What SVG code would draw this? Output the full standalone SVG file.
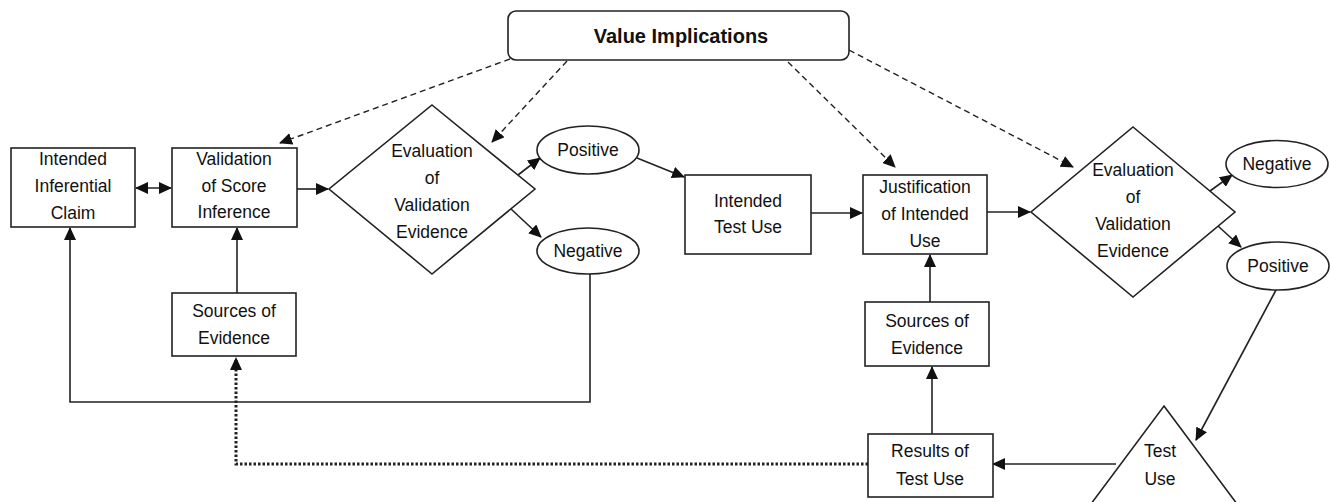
<svg xmlns="http://www.w3.org/2000/svg" width="1330" height="502" viewBox="0 0 1330 502">
<style>
.box{fill:#fff;stroke:#222;stroke-width:1.6}
.t{font-family:"Liberation Sans",Arial,sans-serif;font-size:17.5px;fill:#111;text-anchor:middle}
.b{font-weight:bold;font-size:20px}
.ln{fill:none;stroke:#222;stroke-width:1.6}
.da{fill:none;stroke:#222;stroke-width:1.4;stroke-dasharray:6 4}
.dot{fill:none;stroke:#222;stroke-width:3;stroke-dasharray:2.5 2}
</style>
<defs>
<marker id="ah" markerUnits="userSpaceOnUse" markerWidth="14" markerHeight="12" refX="12" refY="6" orient="auto-start-reverse" viewBox="0 0 14 12">
<path d="M0,0 L13,6 L0,12 z" fill="#111"/>
</marker>
</defs>
<rect width="1330" height="502" fill="#fff"/>
<g id="connectors">
<line class="ln" x1="136" y1="188" x2="171" y2="188" marker-start="url(#ah)" marker-end="url(#ah)"/>
<line class="ln" x1="297" y1="189" x2="328" y2="189" marker-end="url(#ah)"/>
<line class="ln" x1="237" y1="293" x2="237" y2="228" marker-end="url(#ah)"/>
<path class="ln" d="M590,274 V402 H70 V228" marker-end="url(#ah)"/>
<path class="dot" d="M868,464 H236 V358" marker-end="url(#ah)"/>
<line class="ln" x1="518" y1="175" x2="540" y2="158" marker-end="url(#ah)"/>
<line class="ln" x1="511" y1="209" x2="541" y2="237" marker-end="url(#ah)"/>
<line class="ln" x1="637" y1="158" x2="684" y2="177" marker-end="url(#ah)"/>
<line class="ln" x1="811" y1="213" x2="862" y2="213" marker-end="url(#ah)"/>
<line class="ln" x1="987" y1="212" x2="1030" y2="212" marker-end="url(#ah)"/>
<line class="ln" x1="930" y1="302" x2="930" y2="255" marker-end="url(#ah)"/>
<line class="ln" x1="932" y1="434" x2="932" y2="367" marker-end="url(#ah)"/>
<line class="ln" x1="1210" y1="191" x2="1232" y2="175" marker-end="url(#ah)"/>
<line class="ln" x1="1218" y1="226" x2="1241" y2="247" marker-end="url(#ah)"/>
<line class="ln" x1="1276" y1="290" x2="1196" y2="440" marker-end="url(#ah)"/>
<line class="ln" x1="1116" y1="464" x2="993" y2="464" marker-end="url(#ah)"/>
<line class="da" x1="510" y1="59" x2="280" y2="143" marker-end="url(#ah)"/>
<line class="da" x1="567" y1="61" x2="492" y2="142" marker-end="url(#ah)"/>
<line class="da" x1="788" y1="62" x2="895" y2="167" marker-end="url(#ah)"/>
<line class="da" x1="849" y1="50" x2="1073" y2="167" marker-end="url(#ah)"/>
</g>
<g id="value-implications">
<rect class="box" x="508" y="11" width="341" height="49" rx="8"/>
<text class="t b" x="681" y="43">Value Implications</text>
</g>
<g id="intended-inferential-claim">
<rect class="box" x="11" y="148" width="124" height="79"/>
<text class="t" x="73" y="165">Intended</text>
<text class="t" x="73" y="192">Inferential</text>
<text class="t" x="73" y="219">Claim</text>
</g>
<g id="validation-of-score-inference">
<rect class="box" x="172" y="148" width="125" height="79"/>
<text class="t" x="234" y="165">Validation</text>
<text class="t" x="234" y="192">of Score</text>
<text class="t" x="234" y="218">Inference</text>
</g>
<g id="evaluation-1">
<polygon class="box" points="432,105 535,189 432,274 329,189"/>
<text class="t" x="432" y="157">Evaluation</text>
<text class="t" x="432" y="184">of</text>
<text class="t" x="432" y="211">Validation</text>
<text class="t" x="432" y="238">Evidence</text>
</g>
<g id="positive-1">
<ellipse class="box" cx="588" cy="150" rx="51" ry="24"/>
<text class="t" x="588" y="156">Positive</text>
</g>
<g id="negative-1">
<ellipse class="box" cx="588" cy="251" rx="51" ry="23"/>
<text class="t" x="588" y="257">Negative</text>
</g>
<g id="sources-of-evidence-1">
<rect class="box" x="172" y="293" width="124" height="63"/>
<text class="t" x="234" y="317">Sources of</text>
<text class="t" x="234" y="344">Evidence</text>
</g>
<g id="intended-test-use">
<rect class="box" x="685" y="175" width="126" height="79"/>
<text class="t" x="748" y="207">Intended</text>
<text class="t" x="748" y="233">Test Use</text>
</g>
<g id="justification-of-intended-use">
<rect class="box" x="863" y="175" width="124" height="79"/>
<text class="t" x="925" y="193">Justification</text>
<text class="t" x="925" y="220">of Intended</text>
<text class="t" x="925" y="247">Use</text>
</g>
<g id="evaluation-2">
<polygon class="box" points="1133,127 1235,212 1133,297 1031,212"/>
<text class="t" x="1133" y="176">Evaluation</text>
<text class="t" x="1133" y="203">of</text>
<text class="t" x="1133" y="230">Validation</text>
<text class="t" x="1133" y="257">Evidence</text>
</g>
<g id="negative-2">
<ellipse class="box" cx="1277" cy="164" rx="51" ry="23.5"/>
<text class="t" x="1277" y="170">Negative</text>
</g>
<g id="positive-2">
<ellipse class="box" cx="1278" cy="266" rx="51" ry="24"/>
<text class="t" x="1278" y="272">Positive</text>
</g>
<g id="sources-of-evidence-2">
<rect class="box" x="865" y="302" width="124" height="64"/>
<text class="t" x="927" y="327">Sources of</text>
<text class="t" x="927" y="354">Evidence</text>
</g>
<g id="results-of-test-use">
<rect class="box" x="868" y="434" width="125" height="63"/>
<text class="t" x="930" y="457">Results of</text>
<text class="t" x="930" y="485">Test Use</text>
</g>
<g id="test-use">
<polygon class="box" points="1164,406 1243,512 1085,512"/>
<text class="t" x="1160" y="457">Test</text>
<text class="t" x="1160" y="485">Use</text>
</g>
</svg>
